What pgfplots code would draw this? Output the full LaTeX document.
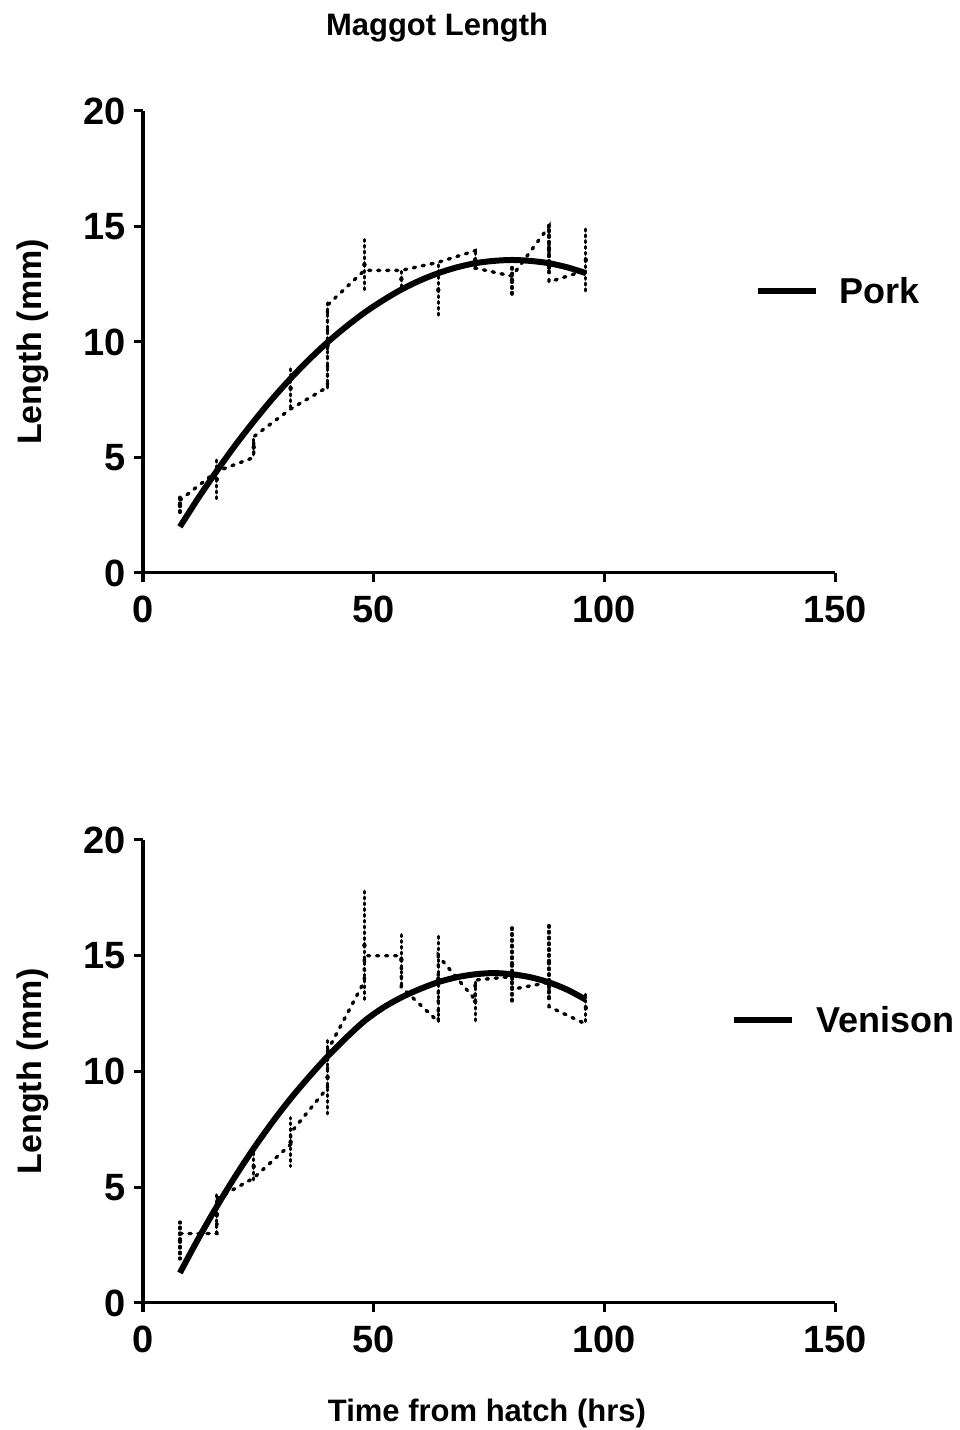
\documentclass[border=0pt]{standalone}
\usepackage{fontspec}
\setmainfont{Liberation Sans}
\usepackage{pgfplots}
\pgfplotsset{compat=1.18}
\newcommand{\fs}[1]{\fontsize{#1}{#1}\selectfont}
\pgfplotsset{
 gp/.style={
  scale only axis, width=692pt, height=462pt,
  xmin=0, xmax=150, ymin=0, ymax=20,
  axis lines=left, axis line style={-, line width=3pt, black},
  xtick={0,50,100,150}, ytick={0,5,10,15,20},
  tick align=outside, major tick length=9pt,
  tick style={line width=3pt, black},
  minor tick num=0,
  /pgf/number format/assume math mode=true,
  ticklabel style={font=\bfseries\fs{38}},
  xticklabel style={yshift=-10pt},
  yticklabel style={xshift=-5pt},
  clip=false,
  every axis y label/.style={at={(axis description cs:-0.159,0.5)}, rotate=90, anchor=center, font=\bfseries\fs{34}},
  legend style={draw=none, fill=none, font=\bfseries\fs{36}, legend cell align=left, inner sep=0pt,
    /tikz/every odd column/.append style={column sep=19pt}},
  legend image code/.code={\draw[line width=6pt, black] (0pt,0pt) -- (58pt,0pt);},
 },
 meanline/.style={black, line width=3.4pt, line cap=round, dash pattern=on 2.2pt off 6.8pt, forget plot},
 ebars/.style={only marks, mark=none, black, forget plot,
   error bars/.cd, y dir=both, y explicit, error mark=none,
   error bar style={line width=3.2pt, line cap=round, dash pattern=on 1.8pt off 4pt, black}},
 fit/.style={black, line width=6pt, smooth, mark=none},
}
\begin{document}
\begin{tikzpicture}
\useasboundingbox (0pt,0pt) rectangle (960pt,1430pt);
% ---------------- Pork ----------------
\begin{axis}[gp, at={(143pt,857pt)}, anchor=south west,
  title={Maggot Length},
  every axis title/.style={at={(axis description cs:0.425,1.18)}, anchor=center, font=\bfseries\fs{31}},
  ylabel={Length (mm)},
  legend style={at={(rel axis cs:0.884,0.610)}, anchor=west}]
\addplot[meanline] coordinates {(8,3.15) (16,4.4) (24,5.0) (24,5.9) (32,7.1) (40,8.05) (40,11.6) (48,13.1) (56,13.1) (64,13.45) (72,13.95) (72,13.2) (80,12.85) (88,15.0) (88,12.6) (96,13.1)};
\addplot[ebars] coordinates {
 (8,2.95) +- (0,0.35)
 (16,4.05) +- (0,0.85)
 (24,5.45) +- (0,0.45)
 (32,8.0) +- (0,0.9)
 (40,9.85) +- (0,1.85)
 (48,13.35) +- (0,1.25)
 (56,12.725) +- (0,0.475)
 (64,12.25) +- (0,1.15)
 (72,13.55) +- (0,0.45)
 (80,12.65) +- (0,0.75)
 (88,14.025) +- (0,1.025)
 (96,13.55) +- (0,1.45)};
\addplot[fit] coordinates {(8,2.00) (12,3.25) (16,4.42) (20,5.53) (24,6.56) (28,7.53) (32,8.42) (36,9.24) (40,9.99) (44,10.66) (48,11.27) (52,11.80) (56,12.27) (60,12.66) (64,12.98) (68,13.23) (72,13.41) (76,13.51) (80,13.55) (84,13.51) (88,13.41) (92,13.23) (96,12.98)};
\addlegendentry{Pork}
\end{axis}
% ---------------- Venison ----------------
\begin{axis}[gp, height=463pt, at={(143pt,127pt)}, anchor=south west,
  xlabel={Time from hatch (hrs)},
  every axis x label/.style={at={(axis description cs:0.497,-0.2376)}, anchor=center, font=\bfseries\fs{31}},
  ylabel={Length (mm)},
  legend style={at={(rel axis cs:0.850,0.611)}, anchor=west}]
\addplot[meanline] coordinates {(8,3.0) (16,3.0) (16,4.5) (24,5.4) (32,6.85) (32,7.35) (40,9.3) (40,10.9) (48,13.9) (48,15.0) (56,15.0) (56,13.65) (64,12.15) (64,15.0) (72,13.1) (72,13.95) (80,14.1) (80,13.55) (88,13.85) (88,12.8) (96,12.05)};
\addplot[ebars] coordinates {
 (8,2.7) +- (0,0.8)
 (16,3.835) +- (0,0.835)
 (24,5.9) +- (0,0.7)
 (32,6.95) +- (0,1.05)
 (40,9.75) +- (0,1.65)
 (48,15.45) +- (0,2.45)
 (56,14.825) +- (0,1.175)
 (64,14.0) +- (0,2.0)
 (72,13.025) +- (0,0.925)
 (80,14.625) +- (0,1.675)
 (88,14.725) +- (0,1.725)
 (96,12.75) +- (0,0.75)};
\addplot[fit] coordinates {(8,1.30) (12,2.78) (16,4.17) (20,5.47) (24,6.68) (28,7.80) (32,8.83) (36,9.77) (40,10.65) (44,11.45) (48,12.18) (52,12.75) (56,13.2) (60,13.56) (64,13.86) (68,14.07) (72,14.20) (76,14.25) (80,14.20) (84,14.07) (88,13.85) (92,13.53) (96,13.10)};
\addlegendentry{Venison}
\end{axis}
\end{tikzpicture}
\end{document}
